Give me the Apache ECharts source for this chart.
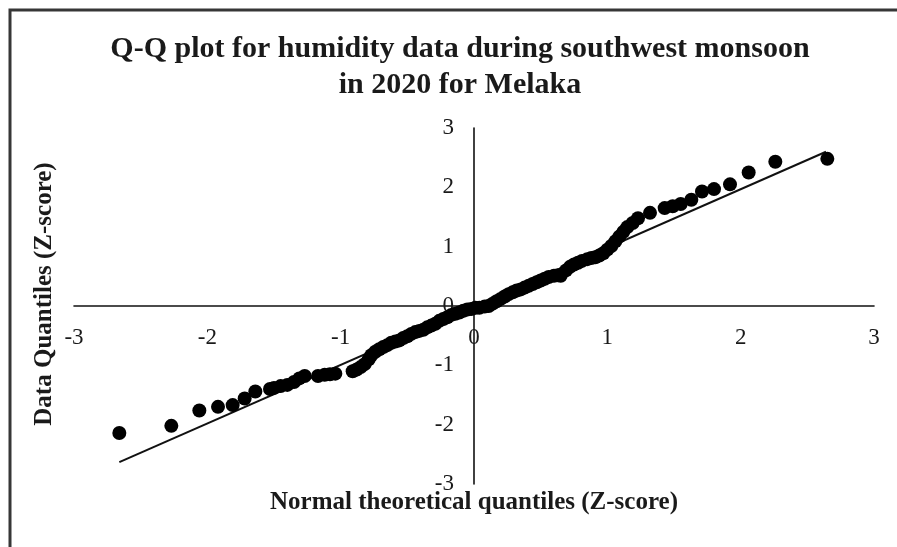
<!DOCTYPE html>
<html>
<head>
<meta charset="utf-8">
<title>Q-Q plot – humidity, southwest monsoon 2020, Melaka</title>
<script src="https://cdn.jsdelivr.net/npm/echarts@6/dist/echarts.min.js"></script>
<style>
  html, body { margin: 0; padding: 0; background: #ffffff; }
  #chart { width: 897px; height: 547px; }
</style>
</head>
<body>
<div id="chart"></div>
<script>
// Theoretical normal quantiles (Z-score) of each observation
const theoreticalQ = [
  -2.66, -2.27, -2.06, -1.92, -1.81, -1.72, -1.64, -1.53, -1.50, -1.45,
  -1.40, -1.35, -1.31, -1.27, -1.17, -1.12, -1.08, -1.04, -0.91, -0.88,
  -0.85, -0.82, -0.79, -0.77, -0.74, -0.71, -0.68, -0.65, -0.62, -0.59,
  -0.56, -0.53, -0.50, -0.47, -0.44, -0.41, -0.38, -0.35, -0.32, -0.29,
  -0.26, -0.23, -0.20, -0.17, -0.14, -0.11, -0.08, -0.05, -0.02, 0.01,
  0.04, 0.08, 0.11, 0.14, 0.17, 0.20, 0.23, 0.26, 0.29, 0.32,
  0.35, 0.38, 0.41, 0.44, 0.47, 0.50, 0.53, 0.56, 0.60, 0.63,
  0.65, 0.69, 0.72, 0.75, 0.78, 0.81, 0.85, 0.88, 0.91, 0.94,
  0.97, 1.00, 1.03, 1.06, 1.09, 1.12, 1.15, 1.19, 1.23, 1.32,
  1.43, 1.49, 1.55, 1.63, 1.71, 1.80, 1.92, 2.06, 2.26, 2.65
];

// Standardised humidity observations (Z-score), sorted
const dataQ = [
  -2.14, -2.02, -1.76, -1.70, -1.67, -1.56, -1.44, -1.40, -1.38, -1.35,
  -1.33, -1.28, -1.22, -1.18, -1.18, -1.16, -1.15, -1.14, -1.10, -1.07,
  -1.03, -0.98, -0.90, -0.83, -0.77, -0.73, -0.69, -0.66, -0.62, -0.60,
  -0.58, -0.54, -0.51, -0.47, -0.44, -0.42, -0.40, -0.36, -0.33, -0.30,
  -0.25, -0.22, -0.19, -0.15, -0.13, -0.11, -0.08, -0.06, -0.05, -0.03,
  -0.03, -0.01, 0.00, 0.04, 0.08, 0.12, 0.16, 0.20, 0.23, 0.26,
  0.28, 0.31, 0.34, 0.37, 0.40, 0.43, 0.46, 0.49, 0.51, 0.52,
  0.51, 0.60, 0.66, 0.70, 0.73, 0.76, 0.79, 0.81, 0.82, 0.85,
  0.89, 0.95, 1.01, 1.09, 1.17, 1.25, 1.33, 1.40, 1.48, 1.57,
  1.65, 1.68, 1.72, 1.79, 1.93, 1.97, 2.05, 2.25, 2.43, 2.48
];

// Reference (trend) line end points
const lineX = [-2.66, 2.64];
const lineY = [-2.63, 2.60];

// Axis tick values
const tickValues = [-3, -2, -1, 0, 1, 2, 3];

const titleLines = ['Q-Q plot for humidity data during southwest monsoon', 'in 2020 for Melaka'];
const xTitle = 'Normal theoretical quantiles (Z-score)';
const yTitle = 'Data Quantiles (Z-score)';

const serif = '"Liberation Serif", "Times New Roman", serif';

const points = theoreticalQ.map((x, i) => [x, dataQ[i]]);
const linePts = lineX.map((x, i) => [x, lineY[i]]);

// Plot area
const GRID = { left: 74, top: 128, width: 800, height: 356 };
const axMin = tickValues[0];
const axMax = tickValues[tickValues.length - 1];

// The two axes cross at the origin: shift each axis from its grid edge to zero
const zeroY = GRID.top + GRID.height * (axMax - 0) / (axMax - axMin);
const zeroX = GRID.left + GRID.width * (0 - axMin) / (axMax - axMin);

const chart = echarts.init(document.getElementById('chart'), null, { renderer: 'canvas' });

function axis(offset) {
  return {
    type: 'value',
    min: axMin,
    max: axMax,
    interval: 1,
    offset: offset,
    splitLine: { show: false },
    axisTick: { show: false },
    axisLine: { show: true, onZero: false, lineStyle: { color: '#111', width: 1.6 } },
    axisLabel: { color: '#1a1a1a', fontFamily: serif, fontSize: 23, margin: 20 }
  };
}

chart.setOption({
  animation: false,
  backgroundColor: '#ffffff',
  title: {
    text: titleLines.join('\n'),
    left: 455,
    top: 26,
    textAlign: 'center',
    textStyle: {
      fontFamily: serif,
      fontWeight: 'bold',
      fontSize: 30,
      lineHeight: 36,
      color: '#1a1a1a'
    }
  },
  grid: Object.assign({ containLabel: false }, GRID),
  xAxis: axis(-(GRID.top + GRID.height - zeroY)),
  yAxis: axis(-(zeroX - GRID.left)),
  graphic: [
    {
      type: 'rect',
      shape: { x: 10, y: 10, width: 1000, height: 1000 },
      style: { fill: 'none', stroke: '#363636', lineWidth: 3 },
      silent: true
    },
    {
      type: 'text',
      x: 474,
      y: 503,
      style: {
        text: xTitle,
        fontFamily: serif,
        fontWeight: 'bold',
        fontSize: 25,
        fill: '#1a1a1a',
        align: 'center',
        verticalAlign: 'middle'
      }
    },
    {
      type: 'text',
      x: 45,
      y: 294,
      rotation: Math.PI / 2,
      style: {
        text: yTitle,
        fontFamily: serif,
        fontWeight: 'bold',
        fontSize: 25,
        fill: '#1a1a1a',
        align: 'center',
        verticalAlign: 'middle'
      }
    }
  ],
  series: [
    {
      type: 'line',
      data: linePts,
      symbol: 'none',
      lineStyle: { color: '#111', width: 2 },
      z: 2
    },
    {
      type: 'scatter',
      data: points,
      symbol: 'circle',
      symbolSize: 14,
      itemStyle: { color: '#000', opacity: 1 },
      z: 3
    }
  ]
});
</script>
</body>
</html>
